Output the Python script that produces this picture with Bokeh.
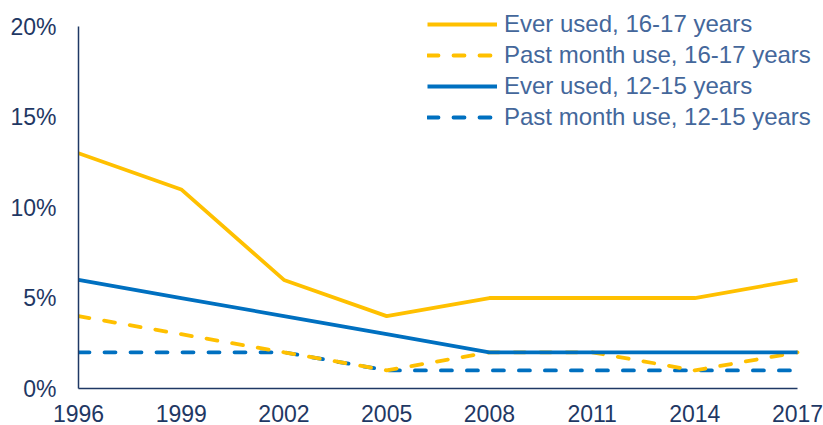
from bokeh.plotting import figure
from bokeh.models import Legend, LegendItem, FixedTicker
from bokeh.embed import file_html
from bokeh.resources import INLINE

years = [1996, 1999, 2002, 2005, 2008, 2011, 2014, 2017]
ever_16_17 = [13, 11, 6, 4, 5, 5, 5, 6]
month_16_17 = [4, 3, 2, 1, 2, 2, 1, 2]
ever_12_15 = [6, 5, 4, 3, 2, 2, 2, 2]
month_12_15 = [2, 2, 2, 1, 1, 1, 1, 1]
y_ticks = [0, 5, 10, 15, 20]
y_labels = ["0%", "5%", "10%", "15%", "20%"]

YELLOW = "#FFC000"
BLUE = "#0070C0"
AXIS = "#1F3864"
LEG_TEXT = "#44679B"
FONT = "Liberation Sans"

p = figure(width=823, height=425, output_backend="svg", toolbar_location=None,
           x_range=(1996, 2017.67), y_range=(0, 21.22))
p.min_border_left = 78
p.min_border_right = 3
p.min_border_top = 4
p.min_border_bottom = 37
p.outline_line_color = None
p.xgrid.grid_line_color = None
p.ygrid.grid_line_color = None
p.background_fill_color = "white"
p.border_fill_color = "white"

for ax in (p.xaxis[0], p.yaxis[0]):
    ax.axis_line_color = AXIS
    ax.axis_line_width = 1.5
    ax.major_tick_line_color = None
    ax.minor_tick_line_color = None
    ax.major_tick_out = 0
    ax.major_tick_in = 0
    ax.minor_tick_out = 0
    ax.major_label_text_font = FONT
    ax.major_label_text_font_size = "23px"
    ax.major_label_text_color = AXIS

p.xaxis.ticker = FixedTicker(ticks=years)
p.xaxis.bounds = (1996, 2017)
p.xaxis.major_label_standoff = 16
p.yaxis.ticker = FixedTicker(ticks=y_ticks)
p.yaxis.bounds = (0, 20)
p.yaxis.major_label_overrides = {t: l for t, l in zip(y_ticks, y_labels)}
p.yaxis.major_label_standoff = 22

r4 = p.line(years, month_12_15, line_color=BLUE, line_width=3.8, line_dash="11 15", line_cap="round")
r2 = p.line(years, month_16_17, line_color=YELLOW, line_width=3.8, line_dash="11 15", line_cap="round")
r3 = p.line(years, ever_12_15, line_color=BLUE, line_width=3.8)
r1 = p.line(years, ever_16_17, line_color=YELLOW, line_width=3.8)

legend = Legend(items=[
    LegendItem(label="Ever used, 16-17 years", renderers=[r1]),
    LegendItem(label="Past month use, 16-17 years", renderers=[r2]),
    LegendItem(label="Ever used, 12-15 years", renderers=[r3]),
    LegendItem(label="Past month use, 12-15 years", renderers=[r4]),
], location=(349, 257))
legend.padding = 0
legend.margin = 0
legend.border_line_alpha = 0
legend.background_fill_alpha = 0
legend.glyph_width = 70
legend.glyph_height = 24
legend.label_height = 24
legend.spacing = 3
legend.label_standoff = 7
legend.label_text_font = FONT
legend.label_text_font_size = "24px"
legend.label_text_color = LEG_TEXT
p.add_layout(legend, "center")

open("out.html", "w").write(file_html(p, INLINE))
